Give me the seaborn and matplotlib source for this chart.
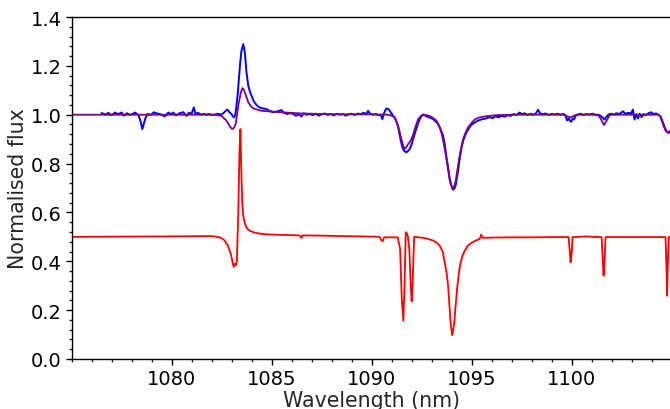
import matplotlib
matplotlib.use("Agg")
import matplotlib.pyplot as plt
from matplotlib.ticker import MultipleLocator
import seaborn as sns
import pandas as pd

# ---- data ----
blue_wl = [1076.48, 1076.6, 1076.7, 1076.82, 1076.95, 1077.05, 1077.15, 1077.3, 1077.48, 1077.6,
           1077.75, 1077.9, 1078.05, 1078.15, 1078.32, 1078.42, 1078.52, 1078.6, 1078.68, 1078.78,
           1078.9, 1079.0, 1079.1, 1079.25, 1079.4, 1079.52, 1079.65, 1079.82, 1079.95, 1080.07,
           1080.2, 1080.3, 1080.4, 1080.57, 1080.73, 1080.85, 1080.98, 1081.1, 1081.18, 1081.3,
           1081.45, 1081.6, 1081.72, 1081.82, 1081.95, 1082.07, 1082.2, 1082.32, 1082.45, 1082.57,
           1082.68, 1082.78, 1082.88, 1082.98, 1083.05, 1083.12, 1083.18, 1083.23, 1083.3, 1083.35,
           1083.42, 1083.48, 1083.57, 1083.65, 1083.73, 1083.82, 1083.9, 1083.98, 1084.07, 1084.15,
           1084.28, 1084.4, 1084.55, 1084.73, 1084.9, 1085.07, 1085.2, 1085.35, 1085.48, 1085.6,
           1085.75, 1085.9, 1086.05, 1086.2, 1086.35, 1086.48, 1086.6, 1086.75, 1086.9, 1087.05,
           1087.2, 1087.35, 1087.5, 1087.65, 1087.8, 1087.95, 1088.1, 1088.25, 1088.4, 1088.55,
           1088.7, 1088.85, 1089.0, 1089.15, 1089.3, 1089.45, 1089.6, 1089.72, 1089.82, 1089.92,
           1090.05, 1090.2, 1090.35, 1090.45, 1090.53, 1090.6, 1090.73, 1090.85, 1090.95, 1091.07,
           1091.2, 1091.32, 1091.45, 1091.55, 1091.65, 1091.73, 1091.82, 1091.9, 1091.98, 1092.07,
           1092.2, 1092.32, 1092.4, 1092.5, 1092.6, 1092.7, 1092.82, 1092.95, 1093.07, 1093.2,
           1093.32, 1093.45, 1093.57, 1093.65, 1093.73, 1093.82, 1093.9, 1094.0, 1094.07, 1094.14,
           1094.2, 1094.27, 1094.33, 1094.4, 1094.48, 1094.58, 1094.7, 1094.85, 1094.98, 1095.15,
           1095.32, 1095.5, 1095.73, 1095.9, 1096.05, 1096.2, 1096.35, 1096.5, 1096.65, 1096.8,
           1096.95, 1097.1, 1097.25, 1097.4, 1097.52, 1097.65, 1097.8, 1097.95, 1098.1, 1098.22,
           1098.32, 1098.42, 1098.55, 1098.7, 1098.85, 1099.0, 1099.15, 1099.3, 1099.45, 1099.6,
           1099.7, 1099.78, 1099.86, 1099.92, 1099.98, 1100.05, 1100.12, 1100.2, 1100.3, 1100.45,
           1100.6, 1100.75, 1100.9, 1101.05, 1101.2, 1101.35, 1101.45, 1101.55, 1101.65, 1101.75,
           1101.85, 1102.0, 1102.12, 1102.23, 1102.4, 1102.57, 1102.7, 1102.85, 1102.98, 1103.07,
           1103.12, 1103.15, 1103.22, 1103.32, 1103.4, 1103.5, 1103.6, 1103.7, 1103.85, 1103.98,
           1104.1, 1104.23, 1104.35, 1104.45, 1104.57, 1104.65, 1104.73, 1104.8, 1104.85, 1104.95]
blue_flux = [1.007, 1.003, 1.000, 1.008, 0.998, 1.002, 1.009, 1.002, 1.009, 0.996,
             1.006, 0.999, 1.004, 1.009, 0.999, 0.976, 0.941, 0.965, 0.987, 1.003,
             0.999, 1.003, 1.010, 1.005, 1.003, 0.998, 0.993, 1.009, 1.002, 1.009,
             0.997, 1.002, 1.007, 1.010, 0.995, 1.008, 1.004, 1.030, 1.003, 1.008,
             1.000, 1.004, 0.999, 1.003, 1.001, 0.998, 1.002, 1.004, 1.000, 1.006,
             1.015, 1.021, 1.010, 1.003, 0.993, 0.989, 1.005, 1.037, 1.090, 1.146,
             1.215, 1.262, 1.289, 1.255, 1.174, 1.119, 1.095, 1.078, 1.060, 1.048,
             1.036, 1.029, 1.026, 1.023, 1.015, 1.010, 1.012, 1.016, 1.019, 1.008,
             1.003, 1.006, 1.004, 0.996, 1.001, 0.993, 1.006, 1.000, 1.003, 0.998,
             1.004, 0.996, 1.002, 1.005, 0.999, 1.003, 0.997, 1.004, 1.000, 1.003,
             0.996, 1.002, 1.004, 0.999, 1.005, 1.002, 1.008, 1.002, 1.016, 1.004,
             1.000, 1.003, 0.998, 1.000, 0.982, 1.004, 1.026, 1.022, 1.010, 0.996,
             0.980, 0.950, 0.895, 0.862, 0.850, 0.846, 0.852, 0.860, 0.875, 0.900,
             0.935, 0.965, 0.982, 0.996, 1.001, 0.995, 0.990, 0.987, 0.982, 0.972,
             0.962, 0.940, 0.914, 0.880, 0.832, 0.785, 0.737, 0.705, 0.693, 0.698,
             0.712, 0.745, 0.778, 0.820, 0.860, 0.895, 0.921, 0.943, 0.958, 0.968,
             0.976, 0.981, 0.985, 0.990, 0.986, 0.994, 0.989, 0.996, 0.992, 0.998,
             0.995, 1.003, 0.999, 1.009, 1.002, 1.006, 0.999, 1.004, 1.000, 1.006,
             1.020, 1.006, 1.002, 1.005, 0.999, 1.003, 1.001, 1.004, 1.000, 1.003,
             0.995, 0.976, 0.985, 0.975, 0.971, 0.985, 0.980, 0.995, 1.000, 1.004,
             0.999, 1.003, 1.001, 1.004, 0.999, 1.000, 0.995, 0.989, 0.980, 0.992,
             1.001, 1.004, 1.000, 1.006, 1.003, 1.014, 1.004, 1.008, 1.005, 1.021,
             0.995, 0.980, 1.002, 0.985, 1.004, 0.990, 1.003, 0.998, 1.006, 1.010,
             1.003, 1.005, 1.000, 0.993, 0.969, 0.950, 0.935, 0.928, 0.925, 0.930]

purple_wl = [1075.0, 1082.2, 1082.48, 1082.73, 1082.9, 1083.02, 1083.12, 1083.2, 1083.32, 1083.45,
             1083.53, 1083.6, 1083.68, 1083.82, 1083.95, 1084.07, 1084.48, 1085.5, 1086.5, 1088.0,
             1090.0, 1090.8, 1091.0, 1091.15, 1091.32, 1091.48, 1091.58, 1091.65, 1091.75, 1091.82,
             1091.9, 1091.98, 1092.07, 1092.15, 1092.32, 1092.48, 1092.7, 1092.9, 1093.1, 1093.23,
             1093.38, 1093.48, 1093.57, 1093.65, 1093.73, 1093.82, 1093.9, 1093.95, 1094.02, 1094.07,
             1094.14, 1094.2, 1094.28, 1094.37, 1094.47, 1094.57, 1094.7, 1094.82, 1095.0, 1095.15,
             1095.35, 1095.57, 1096.2, 1097.0, 1099.65, 1099.8, 1099.95, 1100.1, 1100.25, 1101.3,
             1101.45, 1101.62, 1101.75, 1101.9, 1102.0, 1104.35, 1104.45, 1104.6, 1104.7, 1104.77,
             1104.85, 1104.95]
purple_flux = [1.000, 1.000, 0.995, 0.976, 0.952, 0.941, 0.948, 0.965, 1.037, 1.092,
               1.109, 1.102, 1.085, 1.051, 1.035, 1.026, 1.016, 1.010, 1.005, 1.002,
               1.001, 1.000, 0.996, 0.989, 0.955, 0.900, 0.872, 0.860, 0.870, 0.880,
               0.888, 0.900, 0.918, 0.941, 0.982, 0.996, 0.999, 0.995, 0.985, 0.976,
               0.952, 0.928, 0.895, 0.860, 0.820, 0.778, 0.735, 0.716, 0.703, 0.699,
               0.710, 0.730, 0.770, 0.819, 0.862, 0.900, 0.928, 0.948, 0.967, 0.980,
               0.988, 0.992, 0.998, 1.000, 1.000, 0.992, 0.989, 0.995, 1.000, 1.000,
               0.985, 0.958, 0.975, 0.998, 1.000, 1.000, 0.990, 0.955, 0.935, 0.930,
               0.928, 0.935]

red_wl = [1075.0, 1080.0, 1082.0, 1082.4, 1082.6, 1082.8, 1082.95, 1083.05, 1083.1, 1083.15,
          1083.2, 1083.25, 1083.32, 1083.38, 1083.43, 1083.47, 1083.52, 1083.57, 1083.65, 1083.75,
          1083.9, 1084.1, 1084.4, 1084.8, 1085.5, 1086.4, 1086.48, 1086.55, 1087.5, 1088.5,
          1089.5, 1090.4, 1090.5, 1090.55, 1090.62, 1091.3, 1091.42, 1091.5, 1091.58, 1091.64,
          1091.7, 1091.75, 1091.8, 1091.88, 1091.95, 1092.0, 1092.05, 1092.12, 1092.5, 1092.8,
          1093.07, 1093.25, 1093.4, 1093.55, 1093.65, 1093.75, 1093.82, 1093.88, 1093.93, 1094.0,
          1094.03, 1094.08, 1094.13, 1094.2, 1094.27, 1094.35, 1094.43, 1094.55, 1094.65, 1094.8,
          1094.98, 1095.2, 1095.4, 1095.48, 1095.55, 1096.0, 1097.0, 1098.0, 1099.0, 1099.85,
          1099.9, 1099.95, 1100.0, 1100.05, 1100.8, 1101.0, 1101.5, 1101.55, 1101.6, 1101.65,
          1101.7, 1102.5, 1103.5, 1104.7, 1104.74, 1104.78, 1104.82, 1104.86, 1105.0]
red_flux = [0.500, 0.502, 0.503, 0.498, 0.488, 0.465, 0.430, 0.390, 0.377, 0.390,
            0.385, 0.400, 0.600, 0.850, 0.941, 0.780, 0.640, 0.587, 0.555, 0.535,
            0.525, 0.518, 0.513, 0.510, 0.508, 0.506, 0.496, 0.506, 0.505, 0.503,
            0.502, 0.500, 0.484, 0.482, 0.498, 0.498, 0.450, 0.250, 0.157, 0.300,
            0.519, 0.515, 0.505, 0.450, 0.300, 0.236, 0.320, 0.500, 0.497, 0.492,
            0.485, 0.476, 0.464, 0.440, 0.396, 0.350, 0.300, 0.230, 0.164, 0.110,
            0.098, 0.120, 0.150, 0.220, 0.287, 0.345, 0.389, 0.425, 0.443, 0.463,
            0.475, 0.485, 0.491, 0.509, 0.496, 0.497, 0.498, 0.498, 0.499, 0.499,
            0.450, 0.396, 0.430, 0.499, 0.502, 0.500, 0.499, 0.420, 0.341, 0.400,
            0.499, 0.499, 0.499, 0.499, 0.400, 0.259, 0.400, 0.499, 0.500]

x_ticks = [1080, 1085, 1090, 1095, 1100]
y_ticks = [0.0, 0.2, 0.4, 0.6, 0.8, 1.0, 1.2, 1.4]

sns.set_style("ticks")
plt.rcParams['font.family'] = ['DejaVu Sans']

fig = plt.figure(figsize=(6.7, 4.1), dpi=100)
ax = fig.add_axes([72 / 670, 50 / 410, (671.5 - 72) / 670, 342 / 410])

red_df = pd.DataFrame({"wl": red_wl, "flux": red_flux})
blue_df = pd.DataFrame({"wl": blue_wl, "flux": blue_flux})
purple_df = pd.DataFrame({"wl": purple_wl, "flux": purple_flux})

sns.lineplot(data=red_df, x="wl", y="flux", ax=ax, color="red", linewidth=1.3,
             estimator=None, sort=False)
sns.lineplot(data=blue_df, x="wl", y="flux", ax=ax, color="blue", linewidth=1.4,
             estimator=None, sort=False)
sns.lineplot(data=purple_df, x="wl", y="flux", ax=ax, color="purple", linewidth=1.3,
             estimator=None, sort=False)

ax.set_xlim(1075, 1105)
ax.set_ylim(0, 1.4)
ax.set_xticks(x_ticks)
ax.set_yticks(y_ticks)
ax.set_yticklabels([f"{v:.1f}" for v in y_ticks])
ax.xaxis.set_minor_locator(MultipleLocator(1))
ax.yaxis.set_minor_locator(MultipleLocator(0.04))
ax.tick_params(axis="both", which="major", labelsize=14, length=4, width=1,
               direction="out", colors="black")
ax.tick_params(axis="both", which="minor", length=2.5, width=1, direction="out")
for s in ax.spines.values():
    s.set_color("black")
    s.set_linewidth(1.0)

ax.set_xlabel("Wavelength (nm)", fontsize=14.8, labelpad=1)
ax.set_ylabel("Normalised flux", fontsize=14.8, labelpad=2)

fig.savefig("out.png", dpi=100)
